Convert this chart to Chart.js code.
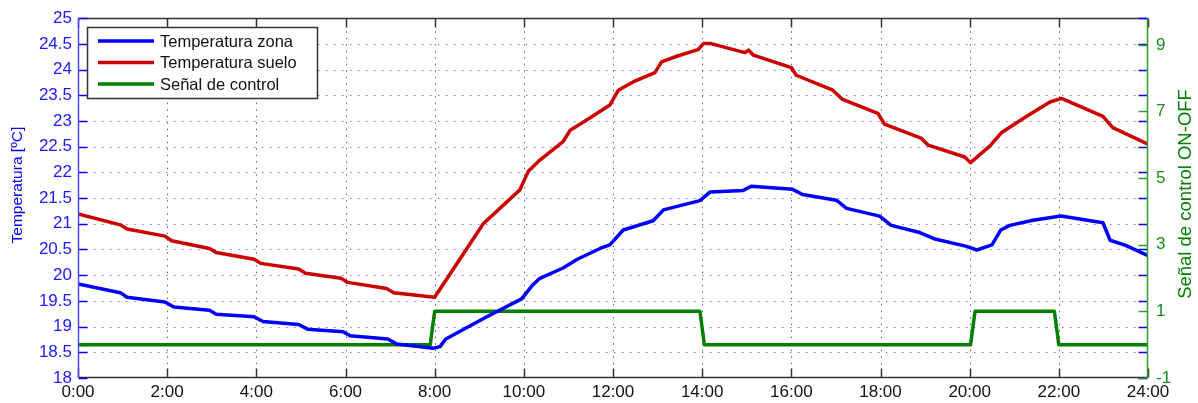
<!DOCTYPE html>
<html>
<head>
<meta charset="utf-8">
<script src="https://cdn.jsdelivr.net/npm/chart.js@4/dist/chart.umd.min.js"></script>
<style>
  html, body { margin: 0; padding: 0; background: #fff; }
</style>
</head>
<body>
<canvas id="chart" width="1198" height="403"></canvas>
<script>
// Values (hours 0-24)
const zonaHours = [0, 0.95, 1.1, 1.95, 2.15, 2.95, 3.1, 3.95, 4.15, 4.95, 5.15, 5.95, 6.1, 6.95, 7.15, 7.97,
  8.12, 8.25, 9.17, 9.95, 10.2, 10.36, 10.88, 11.2, 11.71, 11.93, 12.23, 12.9, 13.13, 13.95, 14.18, 14.92,
  15.1, 16.03, 16.25, 17.01, 17.24, 17.98, 18.24, 18.88, 19.2, 19.93, 20.16, 20.5, 20.7, 20.9, 21.42,
  22.05, 22.99, 23.15, 23.5, 24];
const zonaTemp = [19.83, 19.66, 19.57, 19.48, 19.38, 19.32, 19.24, 19.19, 19.1, 19.04, 18.95, 18.9, 18.82, 18.76, 18.66, 18.58,
  18.61, 18.76, 19.19, 19.54, 19.81, 19.94, 20.14, 20.31, 20.52, 20.59, 20.88, 21.06, 21.27, 21.45, 21.62, 21.65,
  21.73, 21.67, 21.57, 21.46, 21.3, 21.15, 20.97, 20.83, 20.71, 20.56, 20.49, 20.59, 20.88, 20.97, 21.07,
  21.15, 21.02, 20.68, 20.58, 20.38];

const sueloHours = [0, 0.95, 1.1, 1.95, 2.1, 2.95, 3.1, 3.95, 4.1, 4.95, 5.1, 5.9, 6.05, 6.92, 7.08, 8.0,
  9.09, 9.91, 10.1, 10.36, 10.88, 11.04, 11.41, 11.93, 12.12, 12.45, 12.94, 13.09, 13.43, 13.91, 14.03, 14.18,
  14.96, 15.04, 15.15, 16.0, 16.11, 16.93, 17.15, 17.94, 18.09, 18.92, 19.07, 19.89, 20.02, 20.45, 20.71,
  21.2, 21.8, 22.06, 22.99, 23.21, 24];
const sueloTemp = [21.19, 20.98, 20.9, 20.76, 20.67, 20.52, 20.44, 20.31, 20.23, 20.12, 20.04, 19.94, 19.86, 19.74, 19.66, 19.57,
  21.0, 21.66, 22.02, 22.24, 22.6, 22.82, 23.02, 23.31, 23.6, 23.76, 23.94, 24.15, 24.26, 24.39, 24.51, 24.51,
  24.33, 24.38, 24.28, 24.04, 23.89, 23.6, 23.42, 23.15, 22.94, 22.66, 22.53, 22.3, 22.19, 22.51, 22.77,
  23.05, 23.37, 23.44, 23.09, 22.87, 22.55];

const controlHours = [0, 7.9, 8.0, 13.95, 14.05, 20.02, 20.12, 21.9, 22.0, 24];
const controlValue = [0, 0, 1, 1, 0, 0, 1, 1, 0, 0];

const seriesLabels = ['Temperatura zona', 'Temperatura suelo', 'Señal de control'];
const rightTicks = [-1, 1, 3, 5, 7, 9];

const BLUE = '#0000ff';
const RED = '#cc0000';
const GREEN = '#008000';
const FONT = "'Liberation Sans', Arial, sans-serif";

const pts = (xs, ys) => xs.map((x, i) => ({ x: x, y: ys[i] }));

// MATLAB-like frame: dotted grid, inward ticks, coloured spines, legend, axis titles
const matlabFrame = {
  id: 'matlabFrame',
  beforeDatasetsDraw(chart) {
    const { ctx, chartArea: a, scales } = chart;
    ctx.save();
    ctx.lineWidth = 1;
    ctx.setLineDash([1.5, 6.5]);
    ctx.strokeStyle = 'rgba(70, 70, 255, 0.75)';
    scales.y.ticks.forEach((t) => {
      const y = Math.round(scales.y.getPixelForValue(t.value)) + 0.5;
      if (y <= a.top + 1 || y >= a.bottom - 1) return;
      ctx.beginPath(); ctx.moveTo(a.left, y); ctx.lineTo(a.right, y); ctx.stroke();
    });
    ctx.setLineDash([1.5, 5]);
    ctx.strokeStyle = 'rgba(60, 60, 60, 0.8)';
    scales.x.ticks.forEach((t) => {
      const x = Math.round(scales.x.getPixelForValue(t.value)) + 0.5;
      if (x <= a.left + 1 || x >= a.right - 1) return;
      ctx.beginPath(); ctx.moveTo(x, a.top); ctx.lineTo(x, a.bottom); ctx.stroke();
    });
    ctx.restore();
  },
  afterDatasetsDraw(chart) {
    const { ctx, chartArea: a, scales } = chart;
    const L = Math.round(a.left) + 0.5, R = Math.round(a.right) - 0.5;
    const T = Math.round(a.top) + 0.5, B = Math.round(a.bottom) - 0.5;
    const tick = 9;
    ctx.save();
    ctx.lineWidth = 1.5;

    // top / bottom spines and x ticks
    ctx.strokeStyle = '#333';
    ctx.beginPath(); ctx.moveTo(L, T); ctx.lineTo(R, T); ctx.moveTo(L, B); ctx.lineTo(R, B); ctx.stroke();
    scales.x.ticks.forEach((t) => {
      const x = Math.round(scales.x.getPixelForValue(t.value)) + 0.5;
      ctx.beginPath();
      ctx.moveTo(x, T); ctx.lineTo(x, T + tick);
      ctx.moveTo(x, B); ctx.lineTo(x, B - tick);
      ctx.stroke();
    });

    // left-axis ticks on both sides (blue)
    ctx.strokeStyle = BLUE;
    scales.y.ticks.forEach((t) => {
      const y = Math.round(scales.y.getPixelForValue(t.value)) + 0.5;
      ctx.beginPath();
      ctx.moveTo(L, y); ctx.lineTo(L + tick, y);
      ctx.moveTo(R, y); ctx.lineTo(R - tick, y);
      ctx.stroke();
    });
    ctx.strokeStyle = '#4a4aff';
    ctx.beginPath(); ctx.moveTo(L, T); ctx.lineTo(L, B); ctx.stroke();

    // right-axis ticks (green)
    ctx.strokeStyle = '#2f9a2f';
    scales.y2.ticks.forEach((t) => {
      const y = Math.round(scales.y2.getPixelForValue(t.value)) + 0.5;
      ctx.beginPath(); ctx.moveTo(R, y); ctx.lineTo(R - tick, y); ctx.stroke();
    });
    ctx.beginPath(); ctx.moveTo(R, T); ctx.lineTo(R, B); ctx.stroke();

    // legend
    const lx = 87.5, ly = 27.5, lw = 230, lh = 71;
    ctx.fillStyle = '#fff';
    ctx.fillRect(lx, ly, lw, lh);
    ctx.lineWidth = 1.5;
    ctx.strokeStyle = '#333';
    ctx.strokeRect(lx, ly, lw, lh);
    ctx.font = '16.5px ' + FONT;
    ctx.textBaseline = 'middle';
    ctx.textAlign = 'left';
    chart.data.datasets.forEach((ds, i) => {
      const y = 41 + i * 21.5;
      ctx.strokeStyle = ds.borderColor;
      ctx.lineWidth = 3.5;
      ctx.beginPath(); ctx.moveTo(98, y); ctx.lineTo(154, y); ctx.stroke();
      ctx.fillStyle = '#111';
      ctx.fillText(ds.label, 160, y + 1);
    });

    // axis titles, both read bottom to top
    ctx.textAlign = 'center';
    ctx.textBaseline = 'middle';
    ctx.font = '15.5px ' + FONT;
    ctx.fillStyle = BLUE;
    ctx.translate(18, (a.top + a.bottom) / 2 - 13);
    ctx.rotate(-Math.PI / 2);
    ctx.fillText('Temperatura [ºC]', 0, 0);
    ctx.setTransform(1, 0, 0, 1, 0, 0);
    ctx.font = '18.5px ' + FONT;
    ctx.fillStyle = GREEN;
    ctx.translate(1186, 194);
    ctx.rotate(-Math.PI / 2);
    ctx.fillText('Señal de control ON-OFF', 0, 0);
    ctx.restore();
  },
};

new Chart(document.getElementById('chart'), {
  type: 'line',
  data: {
    datasets: [
      { label: seriesLabels[0], data: pts(zonaHours, zonaTemp), borderColor: BLUE, yAxisID: 'y' },
      { label: seriesLabels[1], data: pts(sueloHours, sueloTemp), borderColor: RED, yAxisID: 'y' },
      { label: seriesLabels[2], data: pts(controlHours, controlValue), borderColor: GREEN, yAxisID: 'y2' },
    ],
  },
  options: {
    responsive: false,
    animation: false,
    layout: { padding: { top: 18, right: 0, left: 0, bottom: 0 } },
    elements: {
      point: { radius: 0 },
      line: { borderWidth: 3.5, tension: 0, borderJoinStyle: 'round', borderCapStyle: 'round', fill: false },
    },
    plugins: { legend: { display: false }, tooltip: { enabled: false } },
    scales: {
      x: {
        type: 'linear', position: 'bottom', min: 0, max: 24,
        grid: { display: false, drawTicks: false },
        border: { display: false },
        ticks: {
          stepSize: 2, autoSkip: false, maxRotation: 0, padding: 4,
          color: '#111', font: { family: FONT, size: 17 },
          callback: (v) => v + ':00',
        },
        afterFit: (s) => { s.height = 25; },
      },
      y: {
        type: 'linear', position: 'left', min: 18, max: 25,
        grid: { display: false, drawTicks: false },
        border: { display: false },
        ticks: {
          stepSize: 0.5, autoSkip: false, padding: 6, color: '#1a1aff', font: { family: FONT, size: 17 },
          callback: (v) => String(Math.round(v * 10) / 10),
        },
        afterFit: (s) => { s.width = 78; },
      },
      y2: {
        type: 'linear', position: 'right', min: -1, max: 9.8,
        grid: { display: false, drawTicks: false },
        border: { display: false },
        ticks: {
          autoSkip: false, padding: 8, color: '#1c8c1c', font: { family: FONT, size: 17 },
          callback: (v) => String(v),
        },
        afterBuildTicks: (s) => { s.ticks = rightTicks.map((v) => ({ value: v })); },
        afterFit: (s) => { s.width = 50; },
      },
    },
  },
  plugins: [matlabFrame],
});
</script>
</body>
</html>
